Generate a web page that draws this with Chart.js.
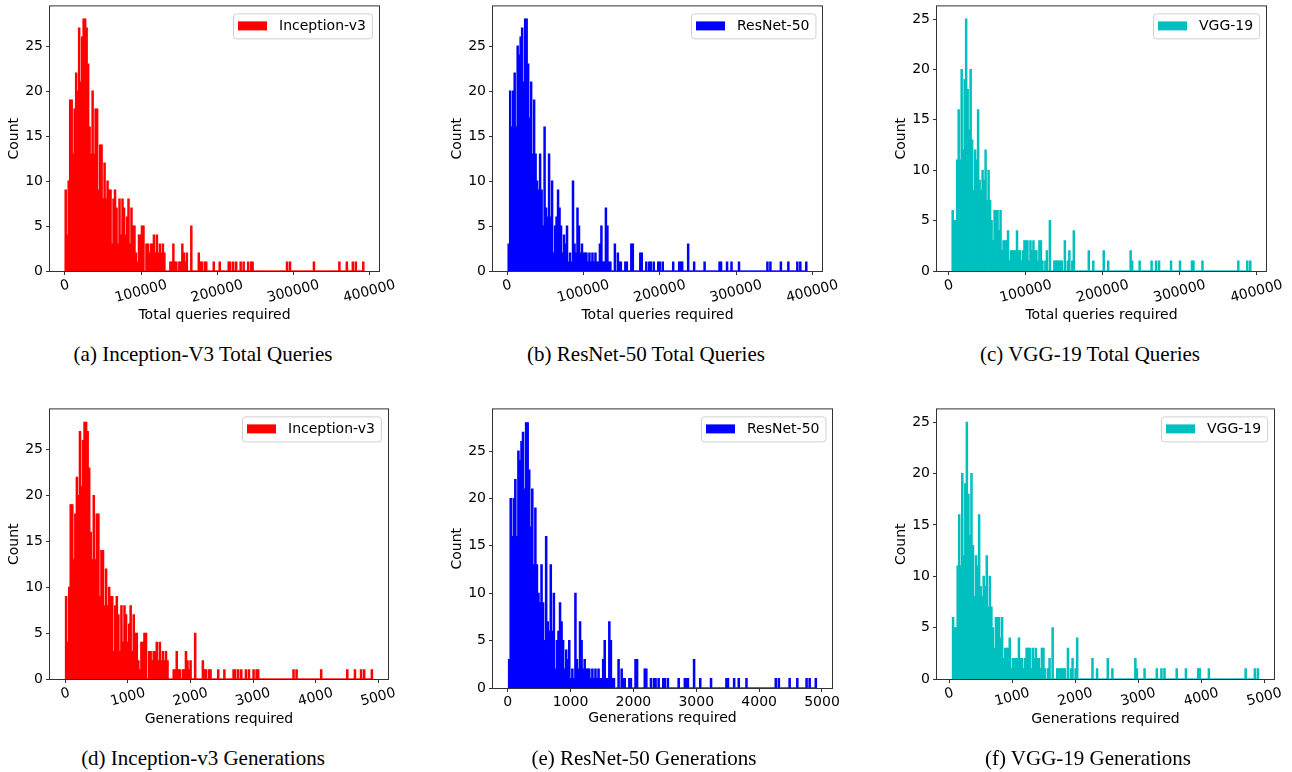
<!DOCTYPE html>
<html>
<head>
<meta charset="utf-8">
<script src="https://cdn.jsdelivr.net/npm/chart.js@4.4.0/dist/chart.umd.min.js"></script>
<style>
  body { margin: 0; background: #fff; width: 1292px; height: 772px; position: relative; overflow: hidden; }
  .cap { position: absolute; font-family: "Liberation Serif", "Times New Roman", serif; font-size: 21px; color: #000; white-space: nowrap; transform: translate(-50%, -50%); }
</style>
</head>
<body>
<script>
// histogram counts, 200 bins each (same samples: queries = generations x 80)
const incCounts = [
  9,4,10,19,19,13,18,22,20,27,21,26,28,28,27,23,16,13,20,13,
  18,18,9,14,14,8,12,8,10,9,9,3,8,9,7,3,8,4,8,7,
  4,6,8,3,7,5,5,2,1,4,4,5,5,0,3,3,2,3,3,4,
  2,4,2,3,2,3,2,0,0,0,1,1,3,1,1,0,1,1,3,2,
  1,2,0,0,5,0,0,0,0,2,1,1,0,1,1,0,0,0,0,1,
  0,0,0,1,0,0,0,0,0,1,1,0,1,0,1,0,0,1,0,1,
  0,0,1,0,1,1,0,0,0,0,0,0,0,0,0,0,0,0,0,0,
  0,0,0,0,0,0,0,0,1,0,1,0,0,0,0,0,0,0,0,0,
  0,0,0,0,0,0,1,0,0,0,0,0,0,0,0,0,0,0,0,0,
  0,0,0,1,0,0,0,0,1,0,0,0,1,0,1,0,0,0,0,1
];
const resCounts = [
  3,20,16,20,22,16,25,24,26,27,21,28,28,23,17,21,13,19,13,10,
  9,13,9,5,16,7,6,13,6,10,2,5,6,9,7,5,2,4,3,5,
  1,2,1,10,3,2,7,5,2,3,2,2,2,1,2,1,2,1,2,1,
  1,3,5,1,1,7,5,1,1,0,0,3,0,2,1,1,0,0,1,1,
  0,0,3,3,0,0,0,0,2,2,0,0,1,0,1,1,0,1,0,0,
  1,1,0,1,0,0,0,0,0,0,1,0,0,0,1,1,1,0,0,0,
  3,0,0,0,1,0,0,0,0,0,0,1,0,0,0,0,0,0,0,0,
  0,1,1,0,0,0,1,0,0,1,0,0,0,0,1,0,0,0,0,0,
  0,0,0,0,0,0,0,0,0,0,0,0,0,1,0,1,0,0,0,0,
  0,0,1,0,0,0,0,1,0,0,0,0,0,1,0,1,0,0,0,1
];
const vggCounts = [
  6,5,5,11,16,11,20,12,19,25,18,14,20,13,8,12,11,16,9,8,
  10,9,12,7,10,7,5,3,6,6,6,4,6,2,3,3,3,4,1,2,
  2,2,2,4,2,2,1,2,3,3,3,1,3,2,3,2,2,1,3,3,
  1,0,1,2,0,5,0,0,1,1,1,1,1,1,0,3,0,1,2,0,
  1,4,0,0,0,0,0,0,0,0,0,2,0,0,1,0,0,0,0,0,
  0,2,0,0,1,0,0,0,0,0,0,0,0,0,0,0,0,0,0,2,
  1,0,0,0,0,1,0,0,0,0,0,0,0,1,0,0,1,0,1,0,
  0,0,0,0,0,0,1,0,0,0,0,0,1,0,0,0,0,0,0,0,
  1,1,0,0,0,0,0,1,0,0,0,0,0,0,0,0,0,0,0,0,
  0,0,0,0,0,0,0,0,0,0,0,1,0,0,0,0,0,1,0,1
];

// [min, max] of the binned data
const incQueryRange = [0, 393000];
const resQueryRange = [1000, 393100];
const vggQueryRange = [4000, 392800];
const incGenRange = [0, 4912];
const resGenRange = [12, 4914];
const vggGenRange = [50, 4910];

const queryTicks = [0, 100000, 200000, 300000, 400000];
const genTicks = [0, 1000, 2000, 3000, 4000, 5000];
const countTicks = [0, 5, 10, 15, 20, 25];

const modelNames = ['Inception-v3', 'ResNet-50', 'VGG-19'];
const captions = [
  '(a) Inception-V3 Total Queries', '(b) ResNet-50 Total Queries', '(c) VGG-19 Total Queries',
  '(d) Inception-v3 Generations', '(e) ResNet-50 Generations', '(f) VGG-19 Generations'
];

Chart.defaults.font.family = '"DejaVu Sans", sans-serif';
Chart.defaults.font.size = 14;
Chart.defaults.color = '#000';

// layout of each subplot: frame = [left, top, right, bottom] of the axes box
const panels = [
  { counts: incCounts, range: incQueryRange, ticks: queryTicks, color: '#ff0000', label: modelNames[0], xTitle: 'Total queries required', frame: [50, 5, 379, 271], rot: 15, titleGap: 44, cap: [203, 354] },
  { counts: resCounts, range: resQueryRange, ticks: queryTicks, color: '#0000ff', label: modelNames[1], xTitle: 'Total queries required', frame: [493, 5, 822, 271], rot: 15, titleGap: 44, cap: [646, 354] },
  { counts: vggCounts, range: vggQueryRange, ticks: queryTicks, color: '#00bfbf', label: modelNames[2], xTitle: 'Total queries required', frame: [937, 5, 1266, 271], rot: 15, titleGap: 44, cap: [1090, 354] },
  { counts: incCounts, range: incGenRange, ticks: genTicks, color: '#ff0000', label: modelNames[0], xTitle: 'Generations required', frame: [50, 408, 388, 679], rot: 15, titleGap: 40, cap: [203, 758] },
  { counts: resCounts, range: resGenRange, ticks: genTicks, color: '#0000ff', label: modelNames[1], xTitle: 'Generations required', frame: [493, 408, 832, 688], rot: 0, titleGap: 30, cap: [644, 758] },
  { counts: vggCounts, range: vggGenRange, ticks: genTicks, color: '#00bfbf', label: modelNames[2], xTitle: 'Generations required', frame: [937, 408, 1274, 679], rot: 15, titleGap: 40, cap: [1088, 758] }
];

// frame, rotated x tick labels, axis titles and legend, drawn matplotlib-style
function decorations(p) {
  return {
    id: 'decorations',
    afterDatasetsDraw(chart) {
      const { ctx, chartArea: a } = chart;
      ctx.save();
      ctx.strokeStyle = '#333';
      ctx.lineWidth = 1;
      ctx.strokeRect(a.left - 0.5, a.top - 0.5, a.right - a.left + 1, a.bottom - a.top + 1);
      ctx.restore();
    },
    afterDraw(chart) {
      const { ctx, chartArea: a } = chart;
      const x = chart.scales.x;
      const th = p.rot * Math.PI / 180;
      ctx.save();
      ctx.fillStyle = '#000';
      ctx.font = '14px "DejaVu Sans"';
      ctx.textAlign = 'center';
      ctx.textBaseline = 'middle';
      p.ticks.forEach(v => {
        const t = String(v);
        const w = ctx.measureText(t).width;
        const h = w * Math.sin(th) + 14 * Math.cos(th);
        ctx.save();
        ctx.translate(x.getPixelForValue(v), a.bottom + 7 + h / 2);
        ctx.rotate(-th);
        ctx.fillText(t, 0, 0);
        ctx.restore();
      });

      ctx.fillText(p.xTitle, (a.left + a.right) / 2, a.bottom + p.titleGap);
      ctx.save();
      ctx.translate(a.left - 36, (a.top + a.bottom) / 2);
      ctx.rotate(-Math.PI / 2);
      ctx.fillText('Count', 0, 0);
      ctx.restore();

      // legend box, upper right
      const tw = ctx.measureText(p.label).width;
      const lw = tw + 52, lh = 25;
      const lx = Math.round(a.right - 7 - lw), ly = a.top + 7;
      ctx.fillStyle = 'rgba(255,255,255,0.8)';
      ctx.strokeStyle = '#d0d0d0';
      ctx.lineWidth = 1;
      ctx.beginPath();
      ctx.roundRect(lx + 0.5, ly + 0.5, lw, lh, 3);
      ctx.fill();
      ctx.stroke();
      ctx.fillStyle = p.color;
      ctx.fillRect(lx + 5, ly + 8, 29, 9);
      ctx.fillStyle = '#000';
      ctx.textAlign = 'left';
      ctx.fillText(p.label, lx + 46, ly + 13);
      ctx.restore();
    }
  };
}

panels.forEach((p, k) => {
  const [L, T, R, B] = p.frame;
  const W = R - L + 90, H = B - T + 70;
  const box = document.createElement('div');
  box.style.cssText = `position:absolute;left:${L - 50}px;top:${T - 10}px;width:${W}px;height:${H}px`;
  const cv = document.createElement('canvas');
  cv.width = W;
  cv.height = H;
  box.appendChild(cv);
  document.body.appendChild(box);

  const [lo, hi] = p.range;
  const bw = (hi - lo) / p.counts.length;
  const margin = 0.05 * (hi - lo);

  new Chart(cv, {
    type: 'bar',
    data: {
      datasets: [{
        label: p.label,
        data: p.counts.map((c, i) => ({ x: lo + (i + 0.5) * bw, y: c })),
        backgroundColor: p.color,
        borderWidth: 0,
        barPercentage: 1,
        categoryPercentage: 1,
        inflateAmount: 0.5
      }]
    },
    options: {
      responsive: false,
      animation: false,
      devicePixelRatio: 1,
      layout: { padding: { left: 0, top: 10, right: 40, bottom: 0 } },
      plugins: { legend: { display: false }, tooltip: { enabled: false } },
      scales: {
        x: {
          type: 'linear',
          offset: false,
          min: lo - margin,
          max: hi + margin,
          afterFit: s => { s.height = 60; },
          afterBuildTicks: s => { s.ticks = p.ticks.map(v => ({ value: v })); },
          ticks: { display: false },
          grid: { offset: false, drawOnChartArea: false, tickLength: 4, color: '#333' },
          border: { display: false }
        },
        y: {
          min: 0,
          max: 1.05 * Math.max(...p.counts),
          afterFit: s => { s.width = 50; },
          afterBuildTicks: s => { s.ticks = countTicks.map(v => ({ value: v })); },
          ticks: { padding: 3, color: '#000', font: { size: 14 } },
          grid: { drawOnChartArea: false, tickLength: 4, color: '#333' },
          border: { display: false }
        }
      }
    },
    plugins: [decorations(p)]
  });

  const cap = document.createElement('div');
  cap.className = 'cap';
  cap.style.left = p.cap[0] + 'px';
  cap.style.top = p.cap[1] + 'px';
  cap.textContent = captions[k];
  document.body.appendChild(cap);
});
</script>
</body>
</html>
